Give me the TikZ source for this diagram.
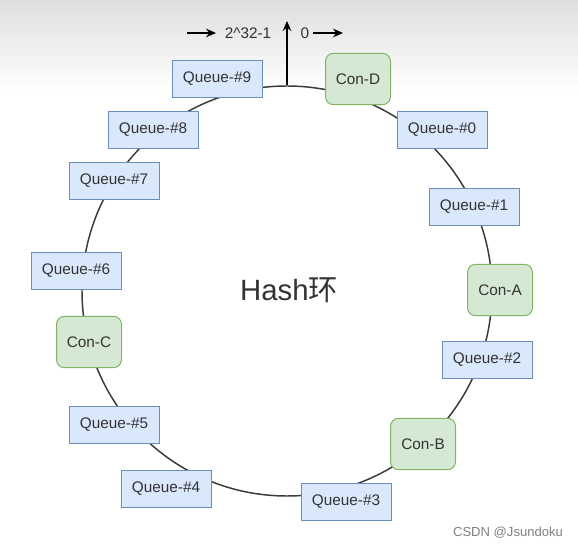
\documentclass[tikz,border=0pt]{standalone}
\usepackage{fontspec}
\setmainfont{Liberation Sans}
\newfontfamily\cjk{Noto Sans CJK SC}
\usetikzlibrary{arrows.meta}
\definecolor{qfill}{HTML}{DAE8FC}
\definecolor{qline}{HTML}{6C8EBF}
\definecolor{cfill}{HTML}{D5E8D4}
\definecolor{cline}{HTML}{82B366}
\definecolor{txt}{HTML}{333333}
\definecolor{ringc}{HTML}{3A3A3A}
\definecolor{topgray}{HTML}{DEDEDE}
\begin{document}
\begin{tikzpicture}[x=0.75pt,y=-0.75pt,
  queue/.style={draw=qline,fill=qfill,line width=0.75pt,minimum width=67.5pt,minimum height=28pt,inner sep=0pt,text=txt,font=\fontsize{11.5pt}{13pt}\selectfont},
  cons/.style={draw=cline,fill=cfill,line width=0.75pt,rounded corners=6pt,minimum width=48.75pt,minimum height=38.5pt,inner sep=0pt,text=txt,font=\fontsize{11.5pt}{13pt}\selectfont},
  lbl/.style={inner sep=0pt,text=txt,font=\fontsize{11.5pt}{13pt}\selectfont},
  arr/.style={-{Stealth[length=7.5pt,width=6.5pt]},line width=1pt,black}
]
\useasboundingbox (0,0) rectangle (578,548);
\fill[white] (0,0) rectangle (578,548);
\shade[top color=topgray,bottom color=white] (0,0) rectangle (578,90);
% ring
\node[circle,draw=ringc,line width=1.1pt,minimum size=307.5pt,inner sep=0pt] (ring) at (287,291) {};
\node[inner sep=0pt,text=txt,font=\fontsize{22pt}{25pt}\selectfont] (hash) at (289,290) {Hash{\cjk 环}};
% top markers
\coordinate (uptip) at (287,21);
\draw[arr] (ring.north) -- (uptip);
\node[lbl] (max) at (248,33) {2\^{}32-1};
\node[lbl] (zero) at (305,33) {0};
\coordinate (la) at (187,33);
\coordinate (lb) at (216,33);
\coordinate (ra) at (313,33);
\coordinate (rb) at (343,33);
\draw[arr] (la) -- (lb);
\draw[arr] (ra) -- (rb);
% queues
\node[queue] (q9) at (217,79) {Queue-\#9};
\node[queue] (q0) at (442,130) {Queue-\#0};
\node[queue] (q1) at (474,207) {Queue-\#1};
\node[queue] (q2) at (487,360) {Queue-\#2};
\node[queue] (q3) at (346,502) {Queue-\#3};
\node[queue] (q4) at (166,489) {Queue-\#4};
\node[queue] (q5) at (114,425) {Queue-\#5};
\node[queue] (q6) at (76,271) {Queue-\#6};
\node[queue] (q7) at (114,181) {Queue-\#7};
\node[queue] (q8) at (153,130) {Queue-\#8};
% consumers
\node[cons] (cd) at (358,79) {Con-D};
\node[cons] (ca) at (500,290) {Con-A};
\node[cons] (cb) at (423,444) {Con-B};
\node[cons] (cc) at (89,342) {Con-C};
% watermark
\node[inner sep=0pt,text=black!50,font=\fontsize{9.8pt}{11pt}\selectfont] (wm) at (508,533) {CSDN @Jsundoku};
\end{tikzpicture}
\end{document}
